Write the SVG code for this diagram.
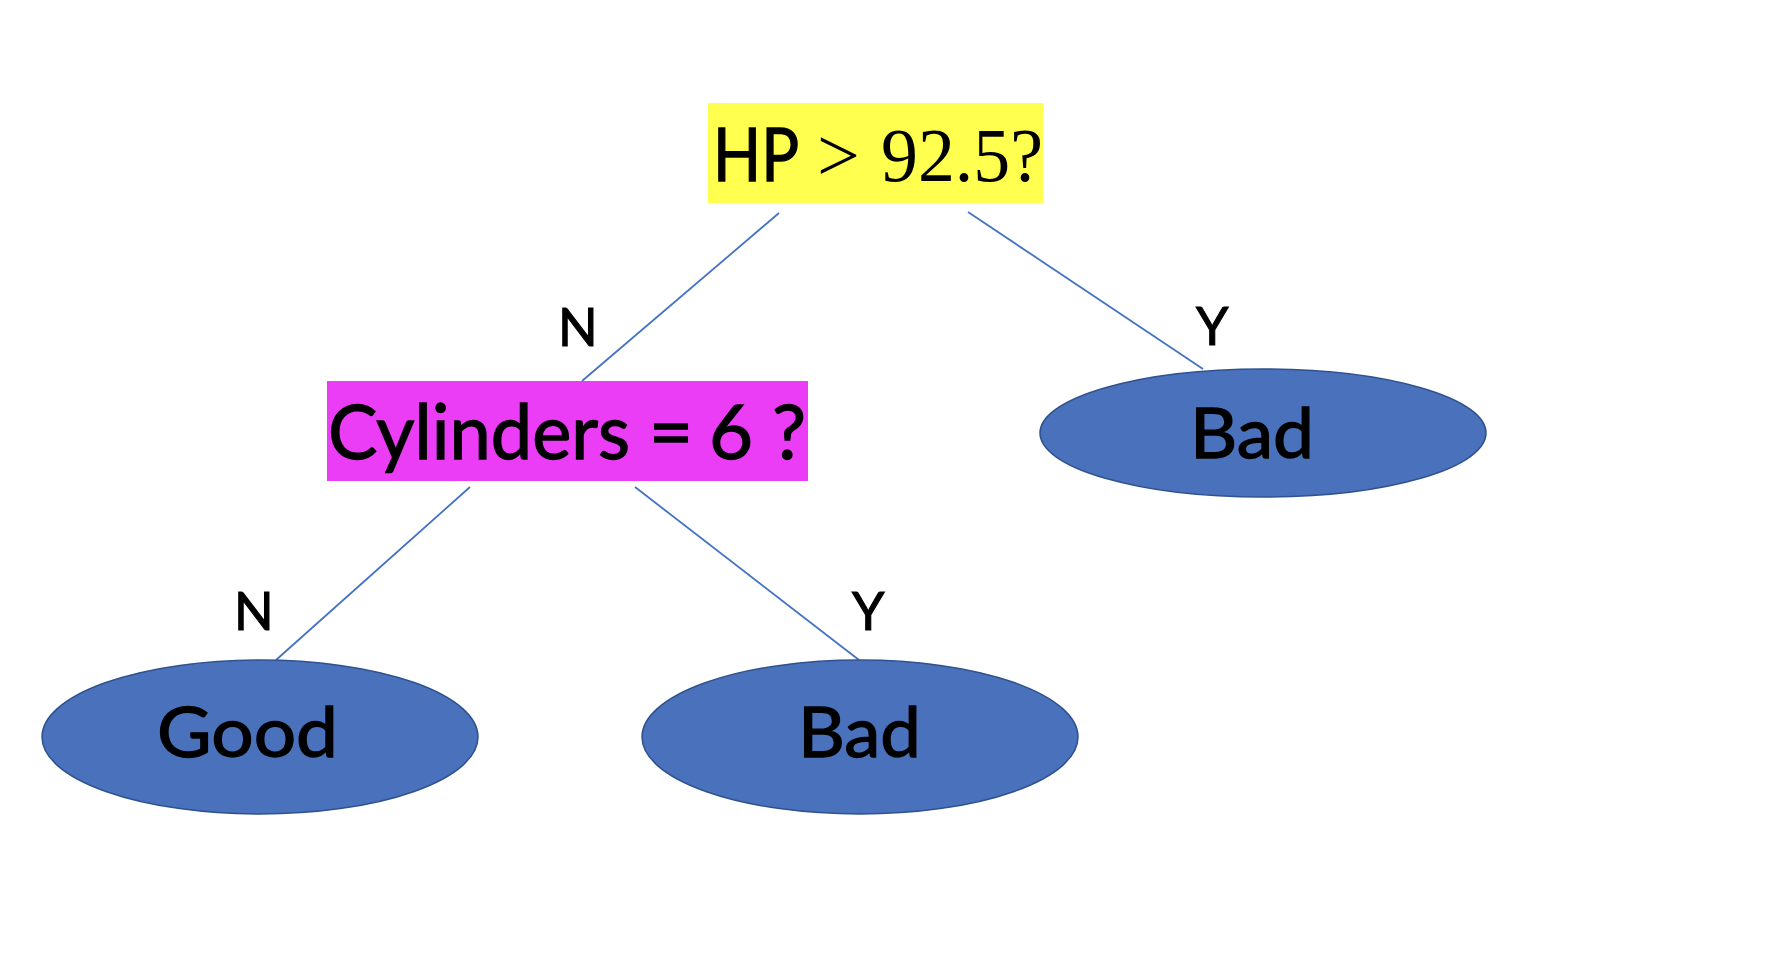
<svg xmlns="http://www.w3.org/2000/svg" width="1788" height="958" viewBox="0 0 1788 958">
<style>
.edge{stroke:#4472C4;stroke-width:1.8;fill:none}
.leaf{fill:#4A72BC;stroke:#2F528F;stroke-width:1.5}
.sans{font-family:Lato,"Open Sans","Liberation Sans",sans-serif;fill:#000;stroke:#000;stroke-width:1.3}
.serif{font-family:"Liberation Serif","Times New Roman",serif;fill:#000}
.lbl{font-size:52px;stroke-width:1.1}
.big{font-size:70px}
</style>
<rect width="1788" height="958" fill="#fff"/>
<g id="connectors">
<line class="edge" x1="779" y1="213" x2="582" y2="381"/>
<line class="edge" x1="968" y1="212" x2="1203" y2="369"/>
<line class="edge" x1="470" y1="487" x2="276" y2="660"/>
<line class="edge" x1="635" y1="487" x2="859" y2="660"/>
</g>
<g id="edge-labels">
<text class="sans lbl" x="558" y="346">N</text>
<text class="sans lbl" x="1196" y="345">Y</text>
<text class="sans lbl" x="234" y="630">N</text>
<text class="sans lbl" x="852" y="630">Y</text>
</g>
<g id="node-hp">
<rect x="708" y="103" width="335" height="100" fill="#FFFF4F"/>
<text class="sans" x="713" y="181" font-size="74" textLength="86" lengthAdjust="spacingAndGlyphs">HP</text>
<text class="serif" x="817" y="181" font-size="76">&gt;</text>
<text class="serif" x="881" y="181" font-size="76" textLength="162" lengthAdjust="spacingAndGlyphs">92.5?</text>
</g>
<g id="node-cyl">
<rect x="327" y="381" width="481" height="100" fill="#EA3DF5"/>
<text class="sans" x="328" y="459" font-size="76" textLength="302" lengthAdjust="spacingAndGlyphs">Cylinders</text>
<text class="sans" x="649" y="459" font-size="76">=</text>
<text class="sans" x="709" y="459" font-size="76">6</text>
<text class="sans" x="772" y="459" font-size="76">?</text>
</g>
<g id="node-bad-right">
<ellipse class="leaf" cx="1263" cy="433" rx="223" ry="64"/>
<text class="sans big" x="1190" y="458" textLength="124" lengthAdjust="spacingAndGlyphs">Bad</text>
</g>
<g id="node-good">
<ellipse class="leaf" cx="260" cy="737" rx="218" ry="77"/>
<text class="sans big" x="157" y="757" textLength="181" lengthAdjust="spacingAndGlyphs">Good</text>
</g>
<g id="node-bad-bottom">
<ellipse class="leaf" cx="860" cy="737" rx="218" ry="77"/>
<text class="sans big" x="798" y="757" textLength="123" lengthAdjust="spacingAndGlyphs">Bad</text>
</g>
</svg>
